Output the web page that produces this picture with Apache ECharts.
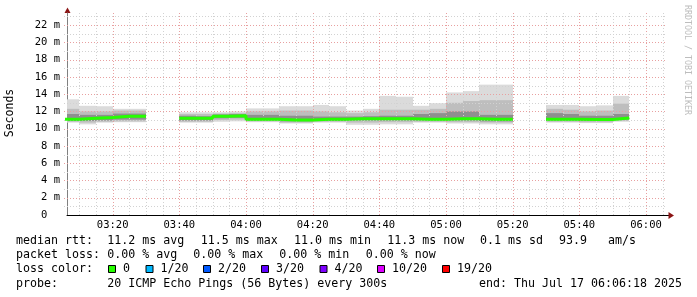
<!DOCTYPE html>
<html><head><meta charset="utf-8">
<script src="https://cdn.jsdelivr.net/npm/echarts@6/dist/echarts.min.js"></script>
<style>html,body{margin:0;padding:0;background:#fff}#c{width:697px;height:297px}</style>
</head><body><div id="c"></div>
<script>
// ---- data (5-minute SmokePing steps, values in ms) ----
const times = ['03:05','03:10','03:15','03:20','03:25','03:30','03:35','03:40','03:45','03:50','03:55','04:00','04:05','04:10','04:15','04:20','04:25','04:30','04:35','04:40','04:45','04:50','04:55','05:00','05:05','05:10','05:15','05:20','05:25','05:30','05:35','05:40','05:45','05:50'];
const maxV   = [13.4,12.65,12.6,12.3,12.3,null,null,11.9,11.9,11.9,12.0,12.35,12.35,12.6,12.6,12.75,12.6,12.1,12.3,13.8,13.7,12.65,12.95,14.2,14.35,15.1,15.1,null,null,12.75,12.75,12.6,12.7,13.8];
const hi2    = [12.3,12.0,12.0,12.1,12.1,null,null,11.7,11.7,11.75,11.8,12.0,12.0,12.1,12.1,12.0,11.9,11.8,11.9,12.2,12.2,12.2,12.3,13.0,13.2,13.3,13.3,null,null,12.3,12.2,12.0,12.1,12.9];
const hi1    = [11.7,11.6,11.6,11.75,11.75,null,null,11.5,11.45,11.65,11.7,11.6,11.6,11.5,11.5,11.4,11.4,11.4,11.45,11.5,11.5,11.7,11.8,12.0,12.0,11.6,11.6,null,null,11.8,11.7,11.5,11.5,11.7];
const median = [11.1,11.2,11.3,11.45,11.45,null,null,11.2,11.2,11.45,11.5,11.1,11.1,11.0,11.0,11.08,11.08,11.15,11.15,11.15,11.15,11.1,11.1,11.15,11.15,11.1,11.1,null,null,11.1,11.1,11.05,11.05,11.25];
const lo1    = [10.9,10.9,10.95,11.05,11.05,null,null,10.95,10.95,11.2,11.25,10.95,10.95,10.85,10.85,10.9,10.9,10.95,10.95,10.95,10.95,10.95,10.95,10.95,10.95,10.85,10.85,null,null,10.95,10.95,10.9,10.9,11.05];
const lo2    = [10.8,10.7,10.8,10.85,10.85,null,null,10.8,10.8,11.0,11.05,10.85,10.85,10.7,10.7,10.8,10.8,10.7,10.7,10.75,10.75,10.8,10.8,10.75,10.75,10.7,10.7,null,null,10.8,10.8,10.75,10.75,10.9];
const minV   = [10.7,10.5,10.7,10.75,10.75,null,null,10.7,10.7,10.8,10.85,10.75,10.75,10.6,10.6,10.7,10.7,10.45,10.45,10.5,10.5,10.7,10.7,10.6,10.6,10.5,10.5,null,null,10.7,10.7,10.65,10.65,10.8];

const xTickLabels = ['03:20','03:40','04:00','04:20','04:40','05:00','05:20','05:40','06:00'];
const yTickValues = [0,2,4,6,8,10,12,14,16,18,20,22];
const yTickLabels = ['0','2 m','4 m','6 m','8 m','10 m','12 m','14 m','16 m','18 m','20 m','22 m'];

const lossLabels = ['0','1/20','2/20','3/20','4/20','10/20','19/20'];
const lossColors = ['#26ff00','#00b8ff','#0059ff','#5e00ff','#7e00ff','#dd00ff','#ff0000'];

const legendRtt  = ['median rtt:','11.2 ms avg','11.5 ms max','11.0 ms min','11.3 ms now','0.1 ms sd','93.9','am/s'];
const legendLoss = ['packet loss:','0.00 % avg','0.00 % max','0.00 % min','0.00 % now'];
const legendProbe = ['probe:','20 ICMP Echo Pings (56 Bytes) every 300s'];
const endText = 'end: Thu Jul 17 06:06:18 2025';

// ---- layout (pixels) ----
const rttX   = [16, 107.3, 200.8, 294, 387.3, 480, 559, 608];
const lossX  = [16, 107.3, 193.3, 279.3, 365.7];
const probeX = [16, 107.3];
const boxX   = [108, 145.5, 203, 261, 319.5, 377, 442];

// ---- helpers ----
const toMin = s => { const [h, m] = s.split(':').map(Number); return h * 60 + m; };
const STEP = 5;
const X_MIN = 3 * 60 + 6.3, X_MAX = 6 * 60 + 6.3;
const Y_MAX = 23.4;
const xTickValues = xTickLabels.map(toMin);

const smokeData = [];
times.forEach((t, i) => {
  if (median[i] == null) return;
  smokeData.push([toMin(t), minV[i], lo2[i], lo1[i], hi1[i], hi2[i], maxV[i]]);
});
const medData = [];
times.forEach((t, i) => {
  if (median[i] == null) { medData.push([toMin(t), null]); return; }
  medData.push([toMin(t), median[i]]);
  if (i === times.length - 1 || median[i + 1] == null) medData.push([toMin(t) + STEP, median[i]]);
});

const vGrid = []; for (let m = 190; m <= 365; m += 5) vGrid.push([m, 0]);
const hGrid = []; for (let v = 1; v <= 23; v += 1) hGrid.push([X_MIN, v]);

const MONO = '"DejaVu Sans Mono", monospace';
const GRID_MINOR = '#d2d2d2', GRID_MAJOR = '#e8a0a0';
const LFONT = '11.63px ' + MONO;

const chart = echarts.init(document.getElementById('c'), null, { renderer: 'canvas' });

const graphics = [];
const addText = (t, x, y, extra) => graphics.push({ type: 'text', x, y, style: Object.assign({ text: t, font: LFONT, fill: '#000', verticalAlign: 'middle' }, extra || {}) });
legendRtt.forEach((t, i) => addText(t, rttX[i], 241.3));
legendLoss.forEach((t, i) => addText(t, lossX[i], 255.3));
addText('loss color:', 16, 269.3);
lossLabels.forEach((lbl, i) => {
  graphics.push({ type: 'rect', shape: { x: boxX[i] + 0.5, y: 265.5, width: 7, height: 7 }, style: { fill: lossColors[i], stroke: '#000', lineWidth: 1 } });
  addText(lbl, boxX[i] + 15, 269.3);
});
legendProbe.forEach((t, i) => addText(t, probeX[i], 283.5));
addText(endText, 479, 283.5);
// axis title and watermark
graphics.push({ type: 'text', x: 10, y: 113, rotation: Math.PI / 2, style: { text: 'Seconds', font: '11.5px ' + MONO, fill: '#000', align: 'center', verticalAlign: 'middle' } });
graphics.push({ type: 'text', x: 687, y: 60, rotation: -Math.PI / 2, style: { text: 'RRDTOOL / TOBI OETIKER', font: '8.3px ' + MONO, fill: '#bdbdbd', align: 'center', verticalAlign: 'middle' } });
// axis extensions and arrows
graphics.push({ type: 'line', shape: { x1: 67.5, y1: 13, x2: 67.5, y2: 9 }, style: { stroke: '#808080', lineWidth: 1 } });
graphics.push({ type: 'polygon', shape: { points: [[64.5, 13], [70.5, 13], [67.5, 7.5]] }, style: { fill: '#8b1414' } });
graphics.push({ type: 'line', shape: { x1: 666, y1: 215.5, x2: 669, y2: 215.5 }, style: { stroke: '#000', lineWidth: 1 } });
graphics.push({ type: 'polygon', shape: { points: [[668.5, 212], [668.5, 219], [674, 215.5]] }, style: { fill: '#8b1414' } });

const option = {
  animation: false,
  backgroundColor: '#ffffff',
  grid: { left: 67, right: 30, top: 13, bottom: 82, containLabel: false },
  xAxis: {
    type: 'value', min: X_MIN, max: X_MAX,
    axisLine: { show: true, onZero: false, lineStyle: { color: '#000', width: 1 } },
    axisTick: { show: false }, splitLine: { show: false },
    axisLabel: {
      customValues: xTickValues,
      formatter: v => xTickLabels[xTickValues.indexOf(Math.round(v))] || '',
      fontFamily: MONO, fontSize: 10.5, color: '#000', margin: 5
    }
  },
  yAxis: {
    type: 'value', min: 0, max: Y_MAX,
    axisLine: { show: true, lineStyle: { color: '#808080', width: 1 } },
    axisTick: { show: false }, splitLine: { show: false },
    axisLabel: {
      customValues: yTickValues,
      formatter: v => { const i = yTickValues.indexOf(Math.round(v)); const s = yTickLabels[i] || ''; return s === '0' ? '0  ' : s; },
      fontFamily: MONO, fontSize: 10.5, color: '#000', margin: 7
    }
  },
  series: [
    {
      type: 'custom', name: 'smoke', z: 1, clip: true,
      data: smokeData,
      renderItem: (params, api) => {
        const t0 = Math.max(api.value(0), X_MIN), t1 = Math.min(api.value(0) + STEP, X_MAX);
        const bands = [[1, 6, '#dbdbdb'], [2, 5, '#bebebe'], [3, 4, '#8f8f8f']];
        const xa = Math.round(api.coord([t0, 0])[0]), xb = Math.round(api.coord([t1, 0])[0]);
        return {
          type: 'group',
          children: bands.map(([a, b, c]) => {
            const ytop = api.coord([t0, api.value(b)])[1];
            const ybot = api.coord([t0, api.value(a)])[1];
            return { type: 'rect', shape: { x: xa, y: ytop, width: xb - xa, height: ybot - ytop }, style: { fill: c } };
          })
        };
      }
    },
    {
      type: 'custom', name: 'vgrid', z: 2, clip: false, silent: true,
      data: vGrid,
      renderItem: (params, api) => {
        const cs = params.coordSys;
        const v = api.value(0);
        const x = Math.round(api.coord([v, 0])[0]) + 0.5;
        return { type: 'line', shape: { x1: x, y1: cs.y, x2: x, y2: cs.y + cs.height + 2 },
          style: { stroke: v % 20 === 0 ? GRID_MAJOR : GRID_MINOR, lineWidth: 1, lineDash: [1, 2] } };
      }
    },
    {
      type: 'custom', name: 'hgrid', z: 2, clip: false, silent: true,
      data: hGrid,
      renderItem: (params, api) => {
        const cs = params.coordSys;
        const v = api.value(1);
        const y = Math.round(api.coord([X_MIN, v])[1]) + 0.5;
        return { type: 'line', shape: { x1: cs.x - 3, y1: y, x2: cs.x + cs.width, y2: y },
          style: { stroke: v % 2 === 0 ? GRID_MAJOR : GRID_MINOR, lineWidth: 1, lineDash: [1, 2] } };
      }
    },
    {
      type: 'line', name: 'median', z: 3, step: 'end', showSymbol: false, connectNulls: false, clip: true,
      data: medData,
      lineStyle: { color: lossColors[0], width: 3 },
      itemStyle: { color: lossColors[0] }
    }
  ],
  graphic: graphics
};
chart.setOption(option);
</script>
</body></html>
